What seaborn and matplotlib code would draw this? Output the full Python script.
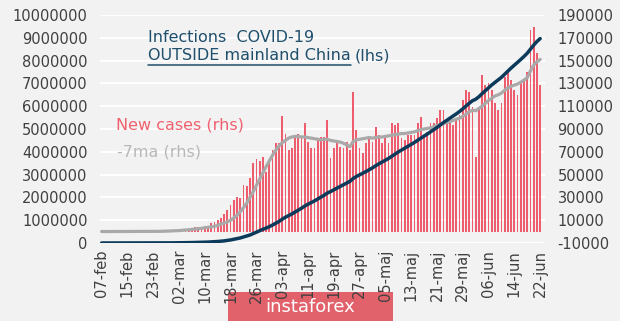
import numpy as np
import pandas as pd
import matplotlib
matplotlib.use("Agg")
import matplotlib.pyplot as plt
import seaborn as sns
from matplotlib.lines import Line2D
from matplotlib.patches import Rectangle

# ---------------- data ----------------
new_cases = [
    40, 50, 60, 30, 50, 70, 40, 90, 50, 60, 70, 80, 50, 110,
    170, 260, 320, 380, 420, 520, 830, 1050, 1250,
    1400, 1800, 1900, 2200, 2400, 2900, 3600, 3900, 4100,
    4500, 5200, 7200, 8500, 10200,
    11500, 15000, 19000, 23000, 27500, 30500, 29500,
    41000, 40000, 47000, 60000, 64000, 62000, 65000,
    52500, 63000, 71500, 77500, 77500, 101000, 86000,
    71500, 73000, 83000, 86000, 82000, 95000, 79000,
    73000, 73000, 82000, 83000, 83000, 98000, 64300,
    73000, 77500, 74500, 73000, 79000, 71600, 122700,
    89000, 73000, 68600, 77500, 81800, 79000, 92000,
    85000, 77500, 81800, 77500, 95000, 93500, 95000,
    81800, 80500, 84700, 84700, 84700, 95000, 100800,
    84700, 87600, 95000, 95000, 99400, 106700, 106700,
    98000, 95000, 93500, 98000, 102300, 115400, 124200,
    122700, 109600, 65700, 109600, 137400, 128600, 130000,
    124200, 112500, 106700, 112500, 135900, 140300, 133000,
    124200, 119800, 131500, 133000, 140300, 176800, 179700, 156400, 128600,
]

ma7 = [
    40, 45, 50, 45, 45, 50, 50,
    55, 55, 55, 60, 65, 65, 70,
    80, 110, 140, 180, 220, 280, 380, 500, 620,
    700, 900, 1100, 1400, 1600, 1900, 2200,
    2500, 2900, 3300, 3800, 4200, 4600, 5500,
    6500, 7500, 8500, 10000, 12000, 14500, 17500,
    21000, 25000, 30000, 35000, 40500, 46000, 51500,
    57000, 62000, 67000, 71500, 75000, 78000, 80000,
    82000, 83000, 83500, 83500, 83000, 83000, 82500,
    82000, 81500, 81000, 80500, 81000, 81000, 80000,
    79500, 79000, 78500, 77500, 76000, 74500, 79000,
    80500, 81000, 81500, 82000, 82500, 82000, 82500,
    83000, 83000, 83500, 84000, 84500, 85000, 85500,
    86000, 86000, 86500, 87000, 87500, 88500, 89500,
    90000, 90500, 91000, 92000, 93000, 94000, 95000,
    95500, 96500, 97500, 98500, 99500, 101000, 103000,
    105000, 106500, 106000, 108000, 110000, 112500, 115000,
    117000, 119000, 120000, 121500, 124000, 126000, 127500,
    128500, 129500, 131000, 133000, 135000, 141000, 146000,
    149000, 151000,
]

# cumulative infections outside mainland China, thousands
cumulative_k = [
    0.3, 0.4, 0.4, 0.4, 0.5, 0.5, 0.6, 0.7, 0.7, 0.8, 0.9, 1.0, 1.0, 1.1,
    1.3, 1.5, 1.9, 2.2, 2.6, 3.2, 4.0, 5.1, 6.3,
    7.7, 9.5, 11.4, 13.6, 16.0, 18.9, 22.5, 26.4, 30.5,
    35.0, 40.2, 47.4, 55.9, 66.1,
    77.6, 92.6, 111.6, 134.6, 162.1, 192.6, 222.1,
    263.1, 303.1, 350.1, 410.1, 474.1, 536.1, 601.1,
    653.6, 716.6, 788.1, 865.6, 943.1, 1044.1, 1130.1,
    1201.6, 1274.6, 1357.6, 1443.6, 1525.6, 1620.6, 1699.6,
    1772.6, 1845.6, 1927.6, 2010.6, 2093.6, 2191.6, 2255.9,
    2328.9, 2406.4, 2480.9, 2553.9, 2632.9, 2704.5, 2827.2,
    2916.2, 2989.2, 3057.8, 3135.3, 3217.1, 3296.1, 3388.1,
    3473.1, 3550.6, 3632.4, 3709.9, 3804.9, 3898.4, 3993.4,
    4075.2, 4155.7, 4240.4, 4325.1, 4409.8, 4504.8, 4605.6,
    4690.3, 4777.9, 4872.9, 4967.9, 5067.3, 5174.0, 5280.7,
    5378.7, 5473.7, 5567.2, 5665.2, 5767.5, 5882.9, 6007.1,
    6129.8, 6239.4, 6305.1, 6414.7, 6552.1, 6680.7, 6810.7,
    6934.9, 7047.4, 7154.1, 7266.6, 7402.5, 7542.8, 7675.8,
    7800.0, 7919.8, 8051.3, 8184.3, 8324.6, 8501.4, 8681.1, 8837.5, 8966.1,
]

x_tick_labels = ["07-feb", "15-feb", "23-feb", "02-mar", "10-mar", "18-mar",
                 "26-mar", "03-apr", "11-apr", "19-apr", "27-apr", "05-maj",
                 "13-maj", "21-maj", "29-maj", "06-jun", "14-jun", "22-jun"]
left_ticks = [0, 1000000, 2000000, 3000000, 4000000, 5000000,
              6000000, 7000000, 8000000, 9000000, 10000000]
right_ticks = [-10000, 10000, 30000, 50000, 70000, 90000,
               110000, 130000, 150000, 170000, 190000]

# ---------------- style ----------------
BG = "#f2f2f2"
RED = "#ee5d6d"
GRAY = "#a9a9a9"
BLUE = "#0c3a5a"
TXT = "#404040"
TITLE_C = "#1f4f6c"

sns.set_theme(style="white")
plt.rcParams["font.family"] = ["DejaVu Sans"]

W, H = 620, 321
fig = plt.figure(figsize=(W / 100, H / 100), dpi=100)
fig.patch.set_facecolor(BG)

ax = fig.add_axes([100 / W, 1 - 243 / H, 445 / W, 228 / H])
ax2 = ax.twinx()
ax.set_zorder(2)
ax2.set_zorder(1)
ax.patch.set_visible(False)
ax2.patch.set_visible(True)
ax2.patch.set_facecolor(BG)

day = np.arange(len(new_cases))
df = pd.DataFrame({"day": day, "new": new_cases, "ma": ma7,
                   "cum": np.array(cumulative_k) * 1000})

sns.barplot(data=df, x="day", y="new", ax=ax2, color=RED, saturation=1,
            width=0.55, native_scale=True, errorbar=None, linewidth=0,
            edgecolor="none")
sns.lineplot(data=df, x="day", y="ma", ax=ax2, color=GRAY, lw=2.3)
sns.lineplot(data=df, x="day", y="cum", ax=ax, color=BLUE, lw=2.5)

ax.set_xlim(-0.5, 137.5)
ax.set_ylim(0, 10000000)
ax2.set_ylim(-10000, 190000)

ax.set_yticks(left_ticks)
ax.set_yticklabels([str(v) for v in left_ticks])
ax2.set_yticks(right_ticks)
ax2.set_yticklabels([str(v) for v in right_ticks])
ax.set_xticks(list(range(0, len(new_cases), 8)))
ax.set_xticklabels(x_tick_labels, rotation=90)

ax.tick_params(axis="y", length=0, pad=9, labelsize=10.5, colors=TXT)
ax2.tick_params(axis="y", length=0, pad=9, labelsize=10.5, colors=TXT)
ax.tick_params(axis="x", length=0, pad=5, labelsize=10.5, colors=TXT)

ax.grid(False)
ax2.grid(False)
ax2.yaxis.grid(True, color="white", lw=1.4)
ax2.set_axisbelow(True)
for a in (ax, ax2):
    a.set_xlabel("")
    a.set_ylabel("")
    for s in a.spines.values():
        s.set_visible(False)

# ---------------- annotations ----------------
fig.text(148 / W, 1 - 37 / H, "Infections  COVID-19", fontsize=11.5,
         color=TITLE_C, va="center", ha="left")
t1 = fig.text(148 / W, 1 - 56 / H, "OUTSIDE mainland China", fontsize=11.5,
              color=TITLE_C, va="center", ha="left")
fig.text(116 / W, 1 - 125 / H, "New cases (rhs)", fontsize=11.5,
         color="#f0606e", va="center", ha="left")
fig.text(117 / W, 1 - 152 / H, "-7ma (rhs)", fontsize=11.5,
         color="#b8b8b8", va="center", ha="left")

fig.canvas.draw()
bb = t1.get_window_extent()
fig.text((bb.x1 + 4) / W, 1 - 56 / H, "(lhs)", fontsize=11.5,
         color=TITLE_C, va="center", ha="left")
fig.add_artist(Line2D([bb.x0 / W, bb.x1 / W], [(bb.y0 - 1) / H] * 2,
                      transform=fig.transFigure, color=TITLE_C, lw=1.1))

# watermark box
fig.add_artist(Rectangle((228 / W, 0), 165 / W, 29 / H, transform=fig.transFigure,
                         facecolor="#e2626b", edgecolor="none"))
fig.text(310 / W, 14 / H, "instaforex", fontsize=13, color="white",
         ha="center", va="center")

fig.savefig("out.png", dpi=100, facecolor=BG)
